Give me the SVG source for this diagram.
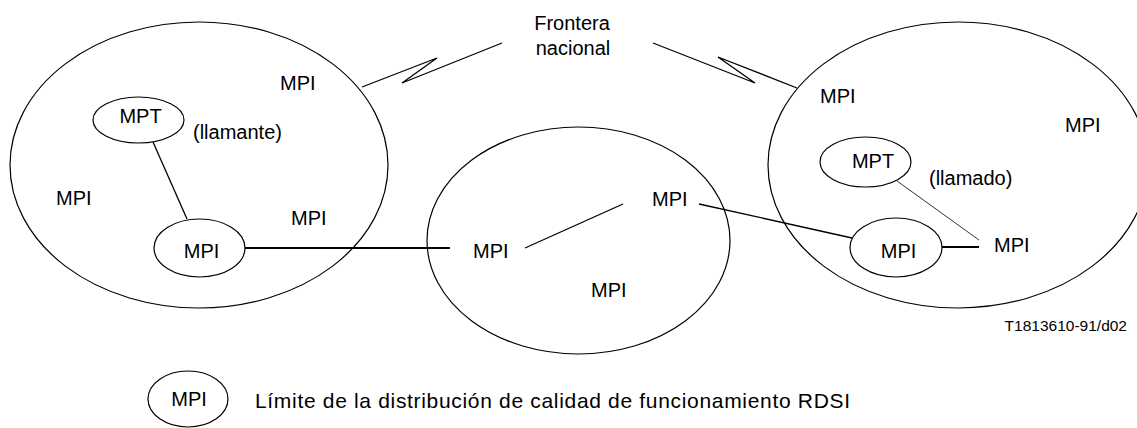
<svg xmlns="http://www.w3.org/2000/svg" width="1137" height="428" viewBox="0 0 1137 428">
<style>
  .bg { fill: #ffffff; }
  .area { fill: none; stroke: #000; stroke-width: 1.2; }
  .node { fill: #fff; stroke: #000; stroke-width: 1.2; }
  .t { font-family: "Liberation Sans", Arial, sans-serif; font-size: 20px; fill: #000; }
  .c { text-anchor: middle; }
  .ln { fill: none; stroke: #000; stroke-width: 1.3; }
  .thick { stroke-width: 2; }
  .thin { stroke-width: 0.8; }
</style>
<rect class="bg" x="0" y="0" width="1137" height="428"/>

<g id="area-left">
  <ellipse class="area" cx="199" cy="165" rx="189" ry="143"/>
  <text class="t" x="280" y="90">MPI</text>
  <text class="t" x="193" y="139">(llamante)</text>
  <text class="t" x="56" y="205">MPI</text>
  <text class="t" x="291" y="225">MPI</text>
</g>
<g id="area-middle">
  <ellipse class="area" cx="578.5" cy="240.5" rx="151.5" ry="113.5"/>
  <text class="t" x="473" y="258">MPI</text>
  <text class="t" x="652" y="206">MPI</text>
  <text class="t" x="591" y="297">MPI</text>
</g>
<g id="area-right">
  <ellipse class="area" cx="958" cy="165" rx="190" ry="143"/>
  <text class="t" x="820" y="103">MPI</text>
  <text class="t" x="1065" y="132">MPI</text>
  <text class="t" x="929" y="185">(llamado)</text>
  <text class="t" x="994" y="252">MPI</text>
</g>

<g id="connectors">
  <line class="ln" x1="153" y1="142" x2="187" y2="219"/>
  <line class="ln thick" x1="245" y1="248" x2="450" y2="248"/>
  <line class="ln" x1="525" y1="248" x2="623" y2="204"/>
  <line class="ln" x1="699" y1="204" x2="852" y2="238"/>
  <line class="ln thin" x1="897" y1="181" x2="979" y2="240"/>
  <line class="ln thick" x1="942" y1="247" x2="979" y2="247"/>
  <polyline class="ln" points="362,87 437,58 402,83 502,43"/>
  <polyline class="ln" points="653,43 755,83 718,57 797,88"/>
</g>

<g id="mpt-calling">
  <ellipse class="node" cx="138.5" cy="120" rx="45.5" ry="23"/>
  <text class="t c" x="140.5" y="123">MPT</text>
</g>
<g id="mpi-left">
  <ellipse class="node" cx="199.5" cy="248" rx="45.5" ry="29"/>
  <text class="t c" x="201.5" y="258">MPI</text>
</g>
<g id="mpt-called">
  <ellipse class="node" cx="865.5" cy="162" rx="45.5" ry="25"/>
  <text class="t c" x="873" y="168">MPT</text>
</g>
<g id="mpi-right">
  <ellipse class="node" cx="896" cy="247.5" rx="46" ry="29.5"/>
  <text class="t c" x="898.5" y="258">MPI</text>
</g>

<g id="label-frontera">
  <text class="t c" x="572" y="30">Frontera</text>
  <text class="t c" x="573" y="55">nacional</text>
</g>

<g id="legend">
  <ellipse class="node" cx="188" cy="399" rx="40" ry="28"/>
  <text class="t c" x="189" y="406">MPI</text>
  <text class="t" x="255" y="408" style="font-size:21px" textLength="595" lengthAdjust="spacing">Límite de la distribución de calidad de funcionamiento RDSI</text>
</g>

<text class="t" x="1127" y="331" style="font-size:15.5px;text-anchor:end">T1813610-91/d02</text>
</svg>
